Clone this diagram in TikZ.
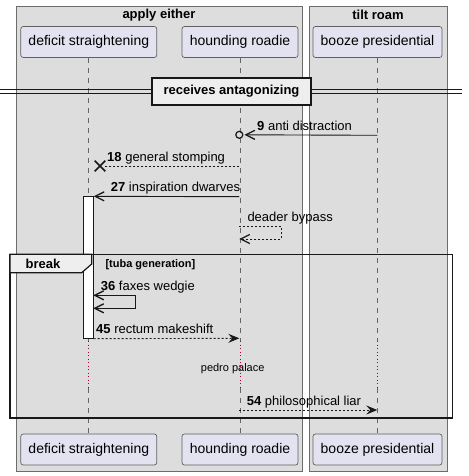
\documentclass[tikz,border=0pt]{standalone}
\usepackage{fontspec}
\setmainfont{Liberation Sans}
\usepackage{xcolor}
\definecolor{groupgrey}{HTML}{DDDDDD}
\definecolor{partfill}{HTML}{E2E2F0}
\definecolor{tabfill}{HTML}{EEEEEE}
\definecolor{ink}{HTML}{181818}
\definecolor{delayred}{HTML}{A80036}
\usetikzlibrary{arrows.meta, positioning, shapes.misc}
\tikzset{%
    barbtip/.tip={Straight Barb[length=9pt, width=9pt, line width=1.3pt]},
    group box/.style={fill=groupgrey, draw=gray!85!black, line width=0.7pt},
    actor box/.style={draw=gray!75!black, fill=partfill, rounded corners=2.5pt, line width=0.7pt, inner sep=0pt, minimum height=31pt, text height=10pt, text depth=3pt, font=\fontsize{14}{16}\selectfont},
    life/.style={draw=gray!80!black, line width=0.7pt, dash pattern=on 5pt off 5pt},
    delay/.style={draw=delayred, line width=0.9pt, dash pattern=on 1pt off 2.5pt},
    msg/.style={draw=ink, line width=0.9pt},
    reply/.style={msg, dash pattern=on 2pt off 2pt},
    full head/.style={-{Stealth[length=11pt, width=9pt, inset=4pt]}},
    thin head/.style={-barbtip},
    msg label/.style={anchor=base west, inner sep=0pt, font=\fontsize{13}{15}\selectfont},
    title label/.style={font=\bfseries\fontsize{13}{15}\selectfont}
}

\begin{document}
\begin{tikzpicture}[x=1pt, y=-1pt]
    \useasboundingbox (0,0) rectangle (468,476);
    % boxes
    \draw[group box] (16,6) rectangle (302,471);
    \draw[group box] (309,6) rectangle (447,471);
    \node[title label] (gapply) at (159,15) {apply either};
    \node[title label] (gtilt) at (378,15) {tilt roam};
    % participants
    \node[actor box, minimum width=136pt] (ds) at (88.8,42) {deficit straightening};
    \node[actor box, minimum width=116pt] (hr) at (240,42) {hounding roadie};
    \node[actor box, minimum width=129pt] (bp) at (377.5,42) {booze presidential};
    \node[actor box, minimum width=136pt] (dsB) at (88.8,449.5) {deficit straightening};
    \node[actor box, minimum width=116pt] (hrB) at (240,449.5) {hounding roadie};
    \node[actor box, minimum width=129pt] (bpB) at (377.5,449.5) {booze presidential};
    % lifelines
    \coordinate (delaytop) at (0,341);
    \coordinate (delaybot) at (0,388);
    \foreach \p in {ds, hr, bp} {
        \draw[life] (\p.south) -- (\p.south |- delaytop);
        \draw[delay] (\p.south |- delaytop) -- (\p.south |- delaybot);
        \draw[life] (\p.south |- delaybot) -- (\p B.north);
    }
    % separator
    \coordinate (sepLa) at (0,89.5);
    \coordinate (sepRa) at (462,89.5);
    \coordinate (sepLb) at (0,93.5);
    \coordinate (sepRb) at (462,93.5);
    \draw[ink, line width=1pt] (sepLa) -- (sepRa);
    \draw[ink, line width=1pt] (sepLb) -- (sepRb);
    \node[draw=ink, line width=1.6pt, fill=tabfill, minimum width=159pt, minimum height=27pt, inner sep=0pt, title label] (sep) at (231.5,91.5) {receives antagonizing};
    % activation
    \node[draw=ink, fill=white, line width=0.8pt, minimum width=10pt, minimum height=141.6pt, inner sep=0pt] (act) at (88.3,267.5) {};
    % messages
    \coordinate (m9a) at (377.3,135.3);
    \node[circle, draw=ink, line width=1.2pt, minimum size=7pt, inner sep=0pt] (m9b) at (239.3,134.8) {};
    \draw[msg, thin head] (m9a) -- ([xshift=1pt]m9b.east);
    \node[msg label] (l9) at (257,130) {\textbf{9} anti distraction};
    \coordinate (m18a) at (239.3,166);
    \node[cross out, draw=ink, line width=1.6pt, minimum size=9pt, inner sep=0pt] (m18b) at (100,166) {};
    \draw[reply] (m18a) -- (m18b.east);
    \node[msg label] (l18) at (107,161) {\textbf{18} general stomping};
    \coordinate (m27a) at (239.3,196.7);
    \draw[msg, thin head] (m27a) -- (act.north east);
    \node[msg label] (l27) at (110.7,191.5) {\textbf{27} inspiration dwarves};
    \coordinate (s1a) at (239.3,226.7);
    \coordinate (s1b) at (281.7,226.7);
    \coordinate (s1c) at (281.7,239);
    \coordinate (s1d) at (239.3,239);
    \draw[reply, thin head] (s1a) -- (s1b) -- (s1c) -- (s1d);
    \node[msg label] (ls1) at (247.3,221.7) {deader bypass};
    % break frame
    \draw[ink, line width=1.5pt] (10,254.3) rectangle (452.7,418);
    \draw[ink, line width=1.2pt, fill=tabfill] (10,254.3) -- (91.7,254.3) -- (91.7,264) -- (81.7,272.7) -- (10,272.7) -- cycle;
    \node[title label] (lbreak) at (43,264) {break};
    \node[anchor=west, inner sep=0pt, font=\bfseries\fontsize{11}{13}\selectfont] (lguard) at (105.3,264.3) {[tuba generation]};
    \coordinate (s2a) at (93.3,295.3);
    \coordinate (s2b) at (135.7,295.3);
    \coordinate (s2c) at (135.7,308.3);
    \coordinate (s2d) at (93.3,308.3);
    \draw[msg, barbtip-barbtip] (s2a) -- (s2b) -- (s2c) -- (s2d);
    \node[msg label] (l36) at (100.7,290) {\textbf{36} faxes wedgie};
    \coordinate (m45b) at (239.3,338.3);
    \draw[reply, full head] (act.south east) -- (m45b);
    \node[msg label] (l45) at (96,333) {\textbf{45} rectum makeshift};
    \node[font=\fontsize{11}{13}\selectfont, inner sep=0pt] (delaytext) at (232.7,368.3) {pedro palace};
    \coordinate (m54a) at (239.3,410);
    \coordinate (m54b) at (377.3,410);
    \draw[reply, full head] (m54a) -- (m54b);
    \node[msg label] (l54) at (246.7,405) {\textbf{54} philosophical liar};
\end{tikzpicture}
\end{document}
